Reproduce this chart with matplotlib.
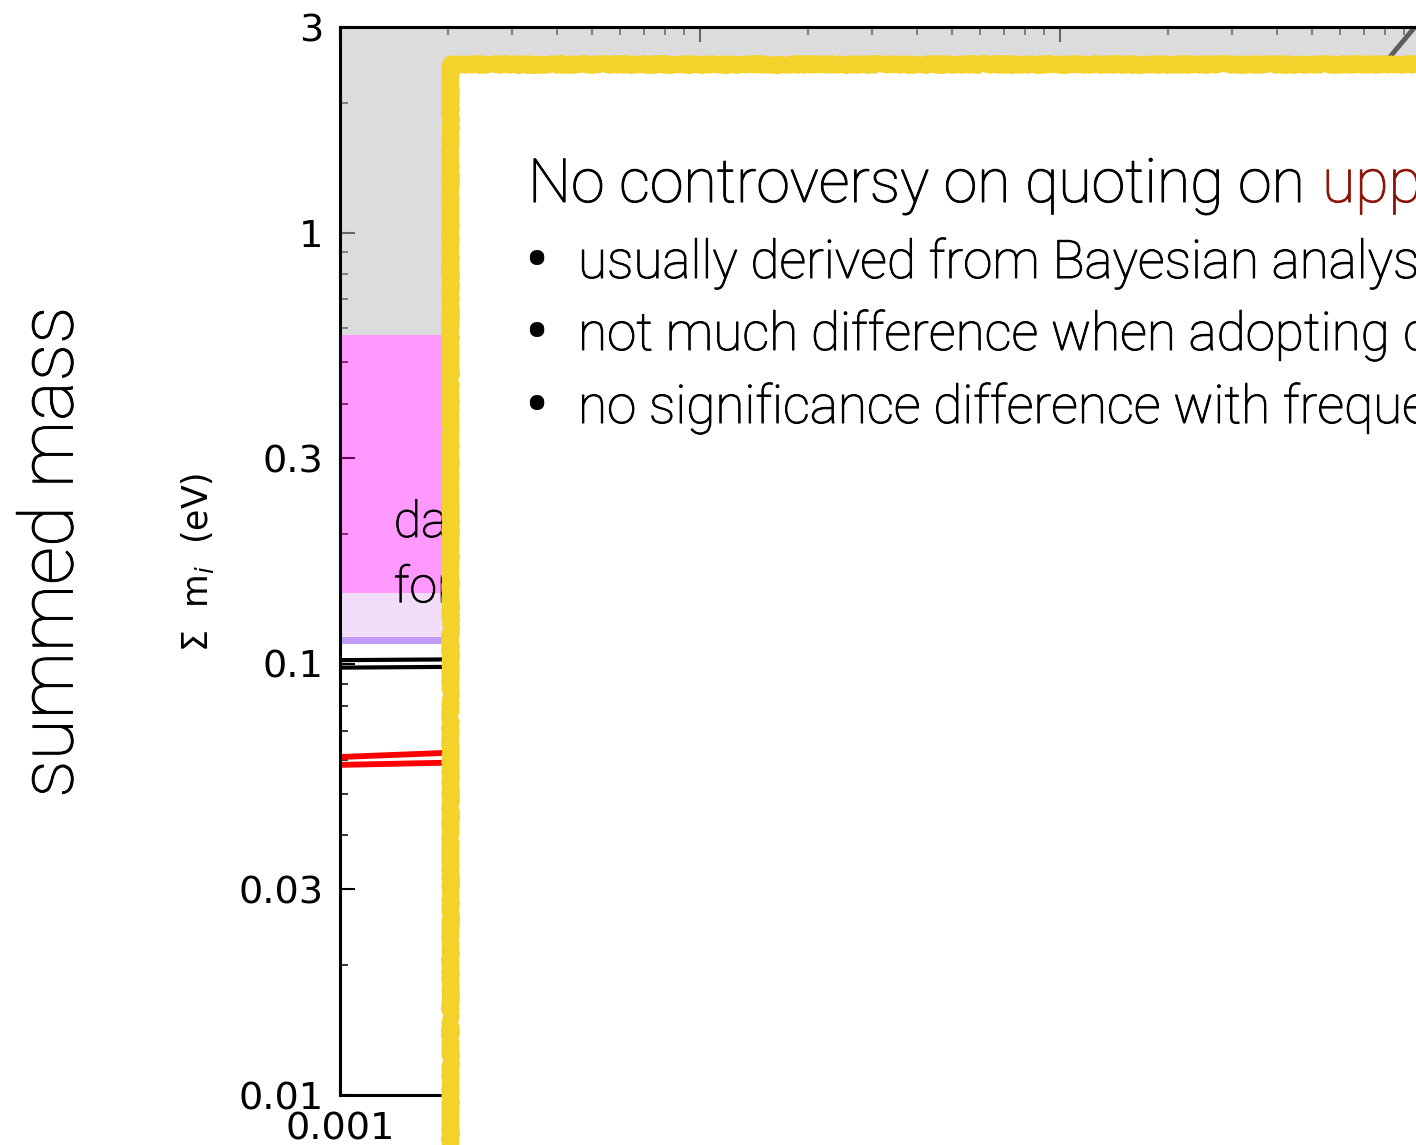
import matplotlib
matplotlib.use("Agg")
import matplotlib.pyplot as plt
import matplotlib.patheffects as pe
from matplotlib.patches import Rectangle
from matplotlib.ticker import NullFormatter, LogLocator

# ---- data -------------------------------------------------------------
# lightest neutrino mass (eV) and summed mass (eV) for the two orderings
m_lightest = [0.001, 0.002, 0.005, 0.01, 0.02, 0.05, 0.1, 0.2, 0.3]
normal_hi = [0.0608, 0.0622, 0.067, 0.075, 0.094, 0.170, 0.310, 0.610, 0.910]
normal_lo = [0.0583, 0.0590, 0.064, 0.072, 0.091, 0.165, 0.305, 0.605, 0.905]
inverted_hi = [0.1020, 0.1024, 0.103, 0.106, 0.113, 0.180, 0.320, 0.620, 0.920]
inverted_lo = [0.0980, 0.0984, 0.099, 0.102, 0.109, 0.175, 0.315, 0.615, 0.915]

# quasi-degenerate branch
m_degenerate = [0.3, 1.0]
sum_degenerate = [0.93, 3.1]

# excluded / projected regions in summed mass (eV)
excluded_band = [0.58, 3.0]
current_band = [0.146, 0.58]
forecast_band = [0.1155, 0.146]
target_band = [0.1113, 0.1155]

ytick_vals = [0.01, 0.03, 0.1, 0.3, 1, 3]
ytick_labels = ["0.01", "0.03", "0.1", "0.3", "1", "3"]
xtick_vals = [0.001, 0.01, 0.1, 1]
xtick_labels = ["0.001", "0.01", "0.1", "1"]

title_text = "No controversy on quoting on "
title_hl = "upper bounds"
bullets = [
    "usually derived from Bayesian analysis",
    "not much difference when adopting different priors",
    "no significance difference with frequentist analysis",
]

# ---- figure -----------------------------------------------------------
W, H = 1416, 1145
fig = plt.figure(figsize=(W / 100, H / 100), dpi=100)


def fx(px):
    return px / W


def fy(py):
    return 1 - py / H


ax = fig.add_axes([fx(340), fy(1095), 1080 / W, (1095 - 27) / H])
ax.set_xscale("log")
ax.set_yscale("log")
ax.set_xlim(1e-3, 1.0)
ax.set_ylim(0.01, 3.0)
ax.set_axisbelow(True)

ax.axhspan(*excluded_band, color=(190 / 255,) * 3, alpha=0.53, lw=0, zorder=1)
ax.axhspan(*current_band, color="#ff00ff", alpha=0.4, lw=0, zorder=1)
ax.axhspan(*forecast_band, color="#d8a0f0", alpha=0.35, lw=0, zorder=1)
ax.axhspan(*target_band, color="#9b59f0", alpha=0.6, lw=0, zorder=1)

ax.plot(m_lightest, inverted_hi, color="black", lw=3.0, zorder=2)
ax.plot(m_lightest, inverted_lo, color="black", lw=3.0, zorder=2)
ax.plot(m_lightest, normal_hi, color="#ff0000", lw=4.2, zorder=2)
ax.plot(m_lightest, normal_lo, color="#ff0000", lw=4.2, zorder=2)
ax.plot(m_degenerate, sum_degenerate, color="#5e5e5e", lw=3.5, zorder=2)

thicken = [pe.withStroke(linewidth=0.7, foreground="black")]
ax.text(0.00141, 0.197, "data", fontsize=36, family="Roboto",
        weight="light", va="baseline", ha="left", zorder=3,
        path_effects=thicken)
ax.text(0.00141, 0.139, "forecast", fontsize=36, family="Roboto",
        weight="light", va="baseline", ha="left", zorder=3,
        path_effects=thicken)

ax.set_yticks(ytick_vals)
ax.set_yticklabels(ytick_labels)
ax.set_xticks(xtick_vals)
ax.set_xticklabels(xtick_labels)
ax.yaxis.set_minor_locator(LogLocator(base=10, subs=range(2, 10)))
ax.xaxis.set_minor_locator(LogLocator(base=10, subs=range(2, 10)))
ax.yaxis.set_minor_formatter(NullFormatter())
ax.xaxis.set_minor_formatter(NullFormatter())
ax.tick_params(which="both", direction="in", top=True, right=True,
               labelsize=27.5, pad=12)
ax.tick_params(which="major", length=11, width=1.5)
ax.tick_params(which="minor", length=6, width=1.1)
for s in ax.spines.values():
    s.set_linewidth(2.2)

fig.text(fx(197), fy(562), "Σ  m$_i$  (eV)", rotation=90, fontsize=25,
         ha="center", va="center")
fig.text(fx(52), fy(552), "summed mass", rotation=90, fontsize=54,
         family="Roboto", weight="light", ha="center", va="center",
         path_effects=thicken)

# ---- callout box ------------------------------------------------------
box = Rectangle((fx(450), -0.1), 1.0, fy(64) + 0.1, transform=fig.transFigure,
                facecolor="white", edgecolor="#F4D22C", lw=11, zorder=5)
box.set_joinstyle("round")
box.set_sketch_params(scale=1.6, length=3, randomness=3)
box.set_path_effects([pe.SimplePatchShadow(offset=(-3, 0), shadow_rgbFace="gray",
                                           alpha=0.25), pe.Normal()])
fig.add_artist(box)

fig.text(fx(528), fy(202), title_text, fontsize=43.8, family="Roboto",
         weight="light", va="baseline", zorder=6, path_effects=thicken)
fig.text(fx(1322), fy(202), title_hl, fontsize=43.8, family="Roboto",
         weight="light", va="baseline", color="#8B150A", zorder=6,
         path_effects=[pe.withStroke(linewidth=0.7, foreground="#8B150A")])

baselines = [278, 350, 423]
for yb, line in zip(baselines, bullets):
    fig.text(fx(524), fy(yb + 6), "•", fontsize=52, family="Roboto",
             va="baseline", zorder=6)
    fig.text(fx(578), fy(yb), line, fontsize=38.2, family="Roboto",
             weight="light", va="baseline", zorder=6, path_effects=thicken)

fig.savefig("out.png", dpi=100)
